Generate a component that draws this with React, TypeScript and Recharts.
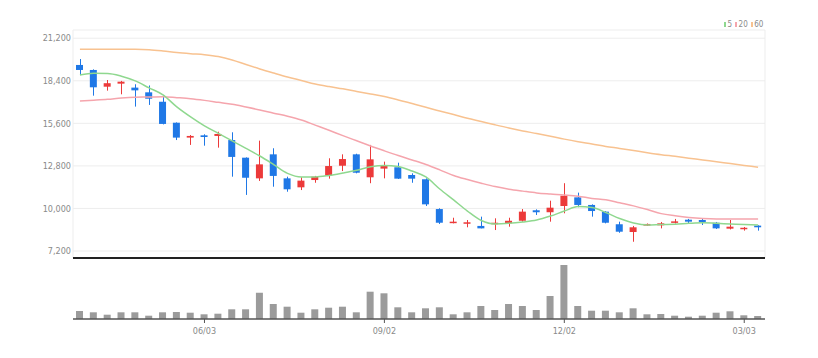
import { ComposedChart, BarChart, Bar, Line, XAxis, YAxis, CartesianGrid } from "recharts";

// weekly candles, Korean colour convention (red = up, blue = down)
const dates = [
    "04/01", "04/08", "04/15", "04/22", "04/29", "05/06", "05/13", "05/20", "05/27", "06/03",
    "06/10", "06/17", "06/24", "07/01", "07/08", "07/15", "07/22", "07/29", "08/05", "08/12",
    "08/19", "08/26", "09/02", "09/09", "09/16", "09/23", "09/30", "10/07", "10/14", "10/21",
    "10/28", "11/04", "11/11", "11/18", "11/25", "12/02", "12/09", "12/16", "12/23", "12/30",
    "01/06", "01/13", "01/20", "01/27", "02/03", "02/10", "02/17", "02/24", "03/03", "03/10",
];
const opens = [
    19440, 19110, 18010, 18210, 17950, 17640, 17020, 15640, 14660, 14810,
    14770, 14500, 13340, 11980, 13560, 11980, 11390, 11870, 12160, 12810,
    13560, 12050, 12620, 12710, 12200, 11920, 9960, 9060, 9020, 8850,
    8980, 9020, 9190, 9880, 9750, 10160, 10730, 10230, 9790, 8960,
    8450, 8870, 8890, 9060, 9260, 9240, 9060, 8670, 8650, 8870,
];
const highs = [
    19830, 19150, 18450, 18390, 18170, 18090, 17470, 15660, 14830, 14880,
    15050, 15010, 13360, 14460, 13960, 12090, 12050, 12140, 13300, 13560,
    13600, 14180, 13080, 13010, 12310, 11980, 10010, 9390, 9240, 9460,
    9350, 9390, 9960, 9940, 10510, 11660, 11040, 10270, 9830, 9130,
    8850, 9010, 9110, 9310, 9310, 9350, 9110, 9240, 8780, 8890,
];
const lows = [
    18780, 17420, 17750, 17510, 16700, 16810, 15530, 14500, 14180, 14130,
    14000, 12090, 10890, 11810, 11430, 11100, 11210, 11690, 11960, 12460,
    12310, 11660, 11980, 11940, 11690, 10160, 8980, 9020, 8760, 8690,
    8580, 8800, 9130, 9570, 9130, 9680, 10080, 9460, 9020, 8400,
    7810, 8850, 8690, 9010, 9020, 8910, 8650, 8620, 8540, 8540,
];
const closes = [
    19110, 17970, 18240, 18340, 17770, 17220, 15560, 14660, 14770, 14700,
    14900, 13390, 12020, 12900, 12140, 11260, 11830, 12090, 12790, 13250,
    12350, 13230, 12790, 11960, 11960, 10270, 9060, 9130, 9090, 8690,
    9060, 9190, 9790, 9750, 10050, 10840, 10230, 9830, 9060, 8470,
    8760, 8980, 9020, 9150, 9130, 9110, 8690, 8800, 8730, 8760,
];
const volumes = [
    80, 67, 43, 67, 67, 33, 67, 70, 63, 47,
    53, 97, 97, 263, 150, 123, 63, 97, 113, 123,
    67, 273, 257, 117, 67, 107, 117, 47, 67, 130,
    90, 150, 130, 90, 230, 540, 130, 83, 83, 67,
    107, 47, 50, 33, 23, 33, 63, 77, 37, 30,
];
const ma5 = [
    18780, 18890, 18880, 18700, 18390, 17930, 17470, 16680, 16020, 15430,
    14940, 14440, 13950, 13450, 12890, 12310, 12070, 12070, 12170, 12330,
    12510, 12740, 12830, 12760, 12460, 12070, 11280, 10560, 9830, 9210,
    8980, 9020, 9110, 9240, 9500, 9830, 10120, 10060, 9730, 9340,
    9040, 8910, 8940, 8960, 9020, 9060, 9020, 8980, 8940, 8910,
];
const ma20 = [
    17070, 17120, 17180, 17270, 17320, 17330, 17350, 17290, 17220, 17110,
    16980, 16850, 16670, 16480, 16270, 16070, 15820, 15480, 15140, 14790,
    14450, 14110, 13790, 13480, 13190, 12890, 12540, 12170, 11900, 11660,
    11440, 11270, 11140, 11020, 10950, 10890, 10810, 10660, 10570, 10370,
    10170, 9930, 9660, 9520, 9410, 9340, 9310, 9310, 9310, 9310,
];
const ma60 = [
    20470, 20470, 20470, 20470, 20470, 20440, 20360, 20260, 20180, 20110,
    19990, 19770, 19470, 19180, 18910, 18650, 18420, 18190, 18020, 17870,
    17700, 17530, 17360, 17140, 16900, 16660, 16410, 16180, 15930, 15720,
    15500, 15290, 15100, 14930, 14750, 14560, 14390, 14240, 14080, 13950,
    13810, 13670, 13540, 13430, 13310, 13190, 13070, 12950, 12830, 12710,
];
const priceTicks = [7200, 10000, 12800, 15600, 18400, 21200];
const dateTicks = ["06/03", "09/02", "12/02", "03/03"];
const maNames = ["5", "20", "60"];

const UP = "#ec3a3a";
const DOWN = "#1f78e6";
const MA_COLORS = ["#8fd88f", "#f5a5ad", "#f8c290"];
const FONT = "'Liberation Sans Narrow', 'DejaVu Sans Condensed', sans-serif";

const data = dates.map((date, i) => ({
    date,
    open: opens[i],
    high: highs[i],
    low: lows[i],
    close: closes[i],
    range: [lows[i], highs[i]],
    volume: volumes[i],
    ma5: ma5[i],
    ma20: ma20[i],
    ma60: ma60[i],
}));

// wick spans the bar (low..high), body placed proportionally inside it
function Candle(props: any) {
    const { x, y, width, height, index } = props;
    const p = props.payload ?? data[index];
    const top = Math.min(y, y + height);
    const h = Math.abs(height);
    const color = p.close >= p.open ? UP : DOWN;
    const k = h / (p.high - p.low);
    const bodyTop = top + (p.high - Math.max(p.open, p.close)) * k;
    const bodyH = Math.max(1.5, Math.abs(p.open - p.close) * k);
    const cx = Math.round(x + width / 2) + 0.5;
    return (
        <g>
            <line x1={cx} x2={cx} y1={top} y2={top + h} stroke={color} strokeWidth={1} />
            <rect x={x} y={bodyTop} width={width} height={bodyH} fill={color} />
        </g>
    );
}

function App() {
    return (
        <div style={{ position: "absolute", left: 0, top: 0, width: 818, height: 358, background: "#fff" }}>
            <div style={{ position: "absolute", left: 0, top: 0 }}>
                <ComposedChart width={818} height={262} data={data} margin={{ top: 30, right: 53, bottom: 0, left: 0 }}>
                    <CartesianGrid stroke="#ededed" />
                    <XAxis
                        dataKey="date"
                        ticks={dateTicks}
                        interval={0}
                        tick={false}
                        tickLine={false}
                        height={4}
                        axisLine={{ stroke: "#222", strokeWidth: 2 }}
                    />
                    <YAxis
                        domain={[6740, 21740]}
                        allowDataOverflow
                        ticks={priceTicks}
                        width={73}
                        axisLine={false}
                        tickLine={false}
                        tickSize={0}
                        tickMargin={2}
                        tick={{ fill: "#8a8a8a", fontSize: 9, fontFamily: FONT }}
                        tickFormatter={(v: number) => v.toLocaleString("en-US")}
                    />
                    <Line type="monotone" dataKey="ma60" stroke={MA_COLORS[2]} strokeWidth={1.5} dot={false} isAnimationActive={false} />
                    <Line type="monotone" dataKey="ma20" stroke={MA_COLORS[1]} strokeWidth={1.5} dot={false} isAnimationActive={false} />
                    <Line type="monotone" dataKey="ma5" stroke={MA_COLORS[0]} strokeWidth={1.5} dot={false} isAnimationActive={false} />
                    <Bar dataKey="range" barSize={7} shape={<Candle />} isAnimationActive={false} />
                </ComposedChart>
            </div>
            <div style={{ position: "absolute", left: 0, top: 258 }}>
                <BarChart width={818} height={100} data={data} margin={{ top: 7, right: 53, bottom: 0, left: 73 }}>
                    <XAxis
                        dataKey="date"
                        ticks={dateTicks}
                        interval={0}
                        height={39}
                        tickSize={4}
                        tickMargin={5}
                        axisLine={{ stroke: "#555", strokeWidth: 1.5 }}
                        tickLine={{ stroke: "#555" }}
                        tick={{ fill: "#8a8a8a", fontSize: 9, fontFamily: FONT }}
                    />
                    <YAxis hide domain={[0, "dataMax"]} />
                    <Bar dataKey="volume" barSize={7} fill="#9b9b9b" isAnimationActive={false} />
                </BarChart>
            </div>
            <div
                style={{
                    position: "absolute",
                    left: 724,
                    top: 20,
                    display: "flex",
                    alignItems: "center",
                    fontFamily: FONT,
                    fontSize: 8,
                    color: "#8a8a8a",
                }}
            >
                {maNames.map((n, i) => (
                    <span key={n} style={{ display: "flex", alignItems: "center", marginRight: 3 }}>
                        <span style={{ display: "inline-block", width: 2, height: 5, background: MA_COLORS[i], marginRight: 1.5 }} />
                        {n}
                    </span>
                ))}
            </div>
        </div>
    );
}

export default App;
